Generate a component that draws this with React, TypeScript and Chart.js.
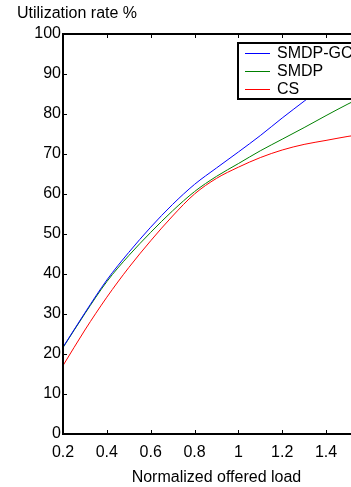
import React, { useEffect, useRef } from "react";
import { Chart, registerables } from "chart.js";

Chart.register(...registerables);

const loads = [0.2, 0.3, 0.4, 0.5, 0.6, 0.7, 0.8, 0.9, 1.0, 1.1, 1.2, 1.3, 1.4, 1.5, 1.6];
const smdpGc = [21.7, 30.3, 38.5, 45.4, 51.7, 57.4, 62.4, 66.5, 70.5, 74.6, 79.0, 83.2, 87.4, 91.4, 95.2];
const smdp = [21.6, 30.1, 38.1, 44.6, 50.4, 55.8, 60.6, 64.4, 67.6, 70.8, 73.7, 76.6, 79.6, 82.5, 85.2];
const cs = [17.1, 26.0, 34.2, 41.6, 48.3, 54.5, 60.0, 63.9, 66.7, 69.1, 71.0, 72.4, 73.4, 74.4, 75.2];

const seriesNames = ["SMDP-GC", "SMDP", "CS"];
const seriesColors = ["#0000ff", "#008000", "#ff0000"];

const xTicks = [0.2, 0.4, 0.6, 0.8, 1.0, 1.2, 1.4, 1.6];
const xTickLabels = ["0.2", "0.4", "0.6", "0.8", "1", "1.2", "1.4", "1.6"];
const yTicks = [0, 10, 20, 30, 40, 50, 60, 70, 80, 90, 100];
const yTickLabels = ["0", "10", "20", "30", "40", "50", "60", "70", "80", "90", "100"];

const xTitle = "Normalized offered load";
const yTitle = "Utilization rate %";

const FONT = 'Arial, "Liberation Sans", sans-serif';

const framePlugin = {
  id: "frame",
  afterDatasetsDraw(chart: any) {
    const { ctx, chartArea: a, scales } = chart;
    ctx.save();
    ctx.fillStyle = "#000";
    const tl = 4;
    for (const v of xTicks) {
      const x = Math.round(scales.x.getPixelForValue(v));
      ctx.fillRect(x, a.bottom - tl, 1, tl);
      ctx.fillRect(x, a.top, 1, tl);
    }
    for (const v of yTicks) {
      const y = Math.round(scales.y.getPixelForValue(v));
      ctx.fillRect(a.left, y, tl, 1);
      ctx.fillRect(a.right - tl, y, tl, 1);
    }
    ctx.strokeStyle = "#000";
    ctx.lineWidth = 2;
    ctx.strokeRect(a.left, a.top, a.right - a.left, a.bottom - a.top);

    // y title
    ctx.fillStyle = "#000";
    ctx.font = `16px ${FONT}`;
    ctx.textAlign = "left";
    ctx.textBaseline = "alphabetic";
    ctx.fillText(yTitle, 17, 18);

    // legend
    const lx = 238, ly = 43, lw = 124, lh = 56;
    ctx.fillStyle = "#fff";
    ctx.fillRect(lx, ly, lw, lh);
    ctx.lineWidth = 2;
    ctx.strokeStyle = "#000";
    ctx.strokeRect(lx, ly, lw, lh);
    const rows = [52.7, 70.7, 89];
    ctx.textBaseline = "middle";
    for (let i = 0; i < seriesNames.length; i++) {
      ctx.fillStyle = seriesColors[i];
      ctx.fillRect(245, Math.round(rows[i]), 25, 1);
      ctx.fillStyle = "#000";
      ctx.fillText(seriesNames[i], 277, rows[i] + 1);
    }
    ctx.restore();
  },
};

export default function App() {
  const ref = useRef<HTMLCanvasElement | null>(null);
  useEffect(() => {
    if (!ref.current) return;
    Chart.defaults.font.family = FONT;
    Chart.defaults.font.size = 16;
    Chart.defaults.color = "#000";
    const mk = (data: number[], i: number) => ({
      label: seriesNames[i],
      data: loads.map((x, k) => ({ x, y: data[k] })),
      borderColor: seriesColors[i],
      backgroundColor: seriesColors[i],
      borderWidth: 1,
      pointRadius: 0,
      cubicInterpolationMode: "monotone" as const,
      fill: false,
    });
    const chart = new Chart(ref.current, {
      type: "line",
      data: { datasets: [mk(smdpGc, 0), mk(smdp, 1), mk(cs, 2)] },
      options: {
        animation: false,
        responsive: false,
        layout: { padding: { left: 0, top: 34, right: 12, bottom: 0 } },
        plugins: { legend: { display: false }, tooltip: { enabled: false } },
        scales: {
          x: {
            type: "linear",
            min: 0.2,
            max: 1.6,
            grid: { display: false, drawTicks: false },
            border: { display: false },
            afterBuildTicks: (s: any) => { s.ticks = xTicks.map((v) => ({ value: v })); },
            afterFit: (s: any) => { s.height = 53; },
            ticks: {
              padding: 9,
              maxRotation: 0,
              autoSkip: false,
              callback: (v: any) => xTickLabels[xTicks.findIndex((t) => Math.abs(t - v) < 1e-6)] ?? "",
            },
            title: { display: true, text: xTitle, padding: { top: 0, bottom: 0 } },
          },
          y: {
            type: "linear",
            min: 0,
            max: 100,
            grid: { display: false, drawTicks: false },
            border: { display: false },
            afterBuildTicks: (s: any) => { s.ticks = yTicks.map((v) => ({ value: v })); },
            afterFit: (s: any) => { s.width = 63; },
            ticks: {
              padding: 2,
              autoSkip: false,
              callback: (v: any) => yTickLabels[yTicks.indexOf(Number(v))] ?? "",
            },
          },
        },
      },
      plugins: [framePlugin],
    });
    return () => chart.destroy();
  }, []);
  return (
    <div style={{ position: "fixed", left: 0, top: 0, width: 351, height: 487, overflow: "hidden", background: "#fff" }}>
      <canvas ref={ref} width={390} height={487} style={{ display: "block", width: 390, height: 487 }} />
    </div>
  );
}
